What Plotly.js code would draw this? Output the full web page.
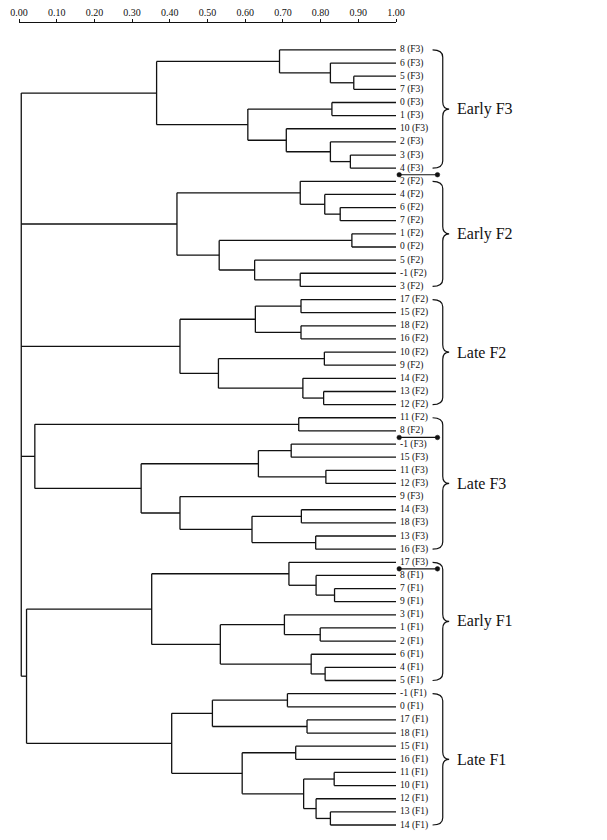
<!DOCTYPE html>
<html>
<head>
<meta charset="utf-8">
<script src="https://cdn.plot.ly/plotly-3.0.1.min.js"></script>
<style>html,body{margin:0;padding:0;background:#fff;}</style>
</head>
<body>
<div id="chart" style="width:607px;height:840px;"></div>
<script>
// Clusters: [mergeHeight, child, child, ...]; leaves are label strings
const earlyF3 = [0.365,
  [0.691, '8 (F3)', [0.826, '6 (F3)', [0.888, '5 (F3)', '7 (F3)']]],
  [0.607, [0.830, '0 (F3)', '1 (F3)'],
          [0.709, '10 (F3)', [0.826, '2 (F3)', [0.879, '3 (F3)', '4 (F3)']]]]];
const earlyF2 = [0.419,
  [0.746, '2 (F2)', [0.811, '4 (F2)', [0.852, '6 (F2)', '7 (F2)']]],
  [0.531, [0.883, '1 (F2)', '0 (F2)'],
          [0.625, '5 (F2)', [0.746, '-1 (F2)', '3 (F2)']]]];
const lateF2 = [0.427,
  [0.627, [0.748, '17 (F2)', '15 (F2)'], [0.748, '18 (F2)', '16 (F2)']],
  [0.529, [0.810, '10 (F2)', '9 (F2)'],
          [0.753, '14 (F2)', [0.808, '13 (F2)', '12 (F2)']]]];
const lateF3 = [0.042,
  [0.742, '11 (F2)', '8 (F2)'],
  [0.324, [0.635, [0.722, '-1 (F3)', '15 (F3)'], [0.814, '11 (F3)', '12 (F3)']],
          [0.427, '9 (F3)', [0.618, [0.749, '14 (F3)', '18 (F3)'], [0.787, '13 (F3)', '16 (F3)']]]]];
const earlyF1 = [0.352,
  [0.716, '17 (F3)', [0.788, '8 (F1)', [0.837, '7 (F1)', '9 (F1)']]],
  [0.534, [0.704, '3 (F1)', [0.799, '1 (F1)', '2 (F1)']],
          [0.775, '6 (F1)', [0.812, '4 (F1)', '5 (F1)']]]];
const lateF1 = [0.405,
  [0.513, [0.712, '-1 (F1)', '0 (F1)'], [0.764, '17 (F1)', '18 (F1)']],
  [0.592, [0.734, '15 (F1)', '16 (F1)'],
          [0.755, [0.836, '11 (F1)', '10 (F1)'], [0.788, '12 (F1)', [0.826, '13 (F1)', '14 (F1)']]]]];
const rootHeight = 0.006;
const f1Height = 0.020;
const tree = [rootHeight, earlyF3, earlyF2, lateF2, lateF3, [f1Height, earlyF1, lateF1]];

const groupNames = ['Early F3', 'Early F2', 'Late F2', 'Late F3', 'Early F1', 'Late F1'];
const groupFirst = ['8 (F3)', '2 (F2)', '17 (F2)', '11 (F2)', '17 (F3)', '-1 (F1)'];
const groupLast  = ['4 (F3)', '3 (F2)', '12 (F2)', '16 (F3)', '5 (F1)', '14 (F1)'];
const separatorsAfter = ['4 (F3)', '8 (F2)', '17 (F3)'];

const tickValues = [0, 0.1, 0.2, 0.3, 0.4, 0.5, 0.6, 0.7, 0.8, 0.9, 1.0];
const tickLabels = ['0.00','0.10','0.20','0.30','0.40','0.50','0.60','0.70','0.80','0.90','1.00'];

// build dendrogram geometry
const leaves = [];
const lx = [], ly = [];
function build(n) {
  if (typeof n === 'string') {
    const idx = leaves.length; leaves.push(n);
    return {y: idx, h: 1.0};
  }
  const h = n[0];
  const kids = n.slice(1).map(build);
  kids.forEach(c => { lx.push(h, c.h, null); ly.push(c.y, c.y, null); });
  lx.push(h, h, null); ly.push(kids[0].y, kids[kids.length-1].y, null);
  return {y: (kids[0].y + kids[kids.length-1].y) / 2, h: h};
}
build(tree);
const idxOf = l => leaves.indexOf(l);

const serif = 'Liberation Serif, Times New Roman, serif';
const traces = [
  {x: lx, y: ly, mode: 'lines', type: 'scatter', line: {color: '#111', width: 1.3}, hoverinfo: 'skip', showlegend: false}
];

const annotations = leaves.map((l, i) => ({xref: 'paper', yref: 'y', x: 1.0, y: i, text: l, showarrow: false,
  xanchor: 'left', yanchor: 'middle', xshift: 2, font: {family: serif, size: 9.5, color: '#111'}}));

const shapes = [];
const sepX0 = 1.0085, sepX1 = 1.11;
const sepY = separatorsAfter.map(l => idxOf(l) + 0.5);
sepY.forEach(y => {
  shapes.push({type: 'line', xref: 'paper', yref: 'y', x0: sepX0, x1: sepX1, y0: y, y1: y, line: {color: '#111', width: 1.2}});
  [sepX0, sepX1].forEach(x => shapes.push({type: 'circle', xref: 'paper', yref: 'y', xsizemode: 'pixel', ysizemode: 'pixel',
    xanchor: x, yanchor: y, x0: -2.3, x1: 2.3, y0: -2.3, y1: 2.3, fillcolor: '#111', line: {color: '#111', width: 0.5}}));
});

const bx0 = 1.097, bx1 = 1.124, bx2 = 1.141, r = 0.55;
groupNames.forEach((g, i) => {
  const top = idxOf(groupFirst[i]), bot = idxOf(groupLast[i]);
  const mid = (top + bot) / 2;
  const p = `M ${bx0},${top} Q ${bx1},${top} ${bx1},${top + r} L ${bx1},${mid - r} Q ${bx1},${mid} ${bx2},${mid} ` +
            `Q ${bx1},${mid} ${bx1},${mid + r} L ${bx1},${bot - r} Q ${bx1},${bot} ${bx0},${bot}`;
  shapes.push({type: 'path', xref: 'paper', yref: 'y', path: p, line: {color: '#111', width: 1.2}});
  annotations.push({xref: 'paper', yref: 'y', x: 1.157, y: mid, text: g, showarrow: false, xanchor: 'left', yanchor: 'middle',
    font: {family: serif, size: 16, color: '#111'}});
});

const layout = {
  width: 607, height: 840,
  margin: {l: 19, r: 211, t: 23, b: 5},
  paper_bgcolor: '#fff', plot_bgcolor: '#fff',
  showlegend: false,
  xaxis: {range: [0, 1], side: 'top', tickvals: tickValues, ticktext: tickLabels,
    ticks: 'outside', ticklen: 3, tickcolor: '#111', showline: true, linecolor: '#111', linewidth: 1.3,
    ticklabelstandoff: -1,
    showgrid: false, zeroline: false, fixedrange: true,
    tickfont: {family: serif, size: 10, color: '#111'}},
  yaxis: {range: [59.76, -2.05], showticklabels: false, showgrid: false, zeroline: false, showline: false, ticks: '', fixedrange: true},
  shapes: shapes,
  annotations: annotations
};
Plotly.newPlot('chart', traces, layout, {staticPlot: true});
</script>
</body>
</html>
